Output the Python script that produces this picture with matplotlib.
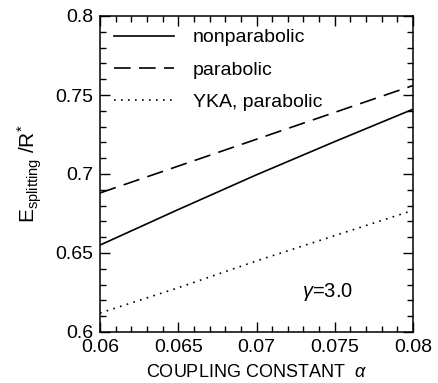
import matplotlib.pyplot as plt
from matplotlib.ticker import MultipleLocator

plt.rcParams['font.family'] = 'Liberation Sans'
plt.rcParams['mathtext.fontset'] = 'custom'
plt.rcParams['mathtext.rm'] = 'Liberation Sans'
plt.rcParams['mathtext.it'] = 'Liberation Sans:italic'

# Coupling constant and splitting energies (in units of R*)
alpha = [0.06, 0.065, 0.07, 0.075, 0.08]
nonparabolic = [0.655, 0.6775, 0.6995, 0.7205, 0.741]
parabolic = [0.688, 0.705, 0.722, 0.739, 0.756]
yka_parabolic = [0.612, 0.628, 0.645, 0.661, 0.677]

xticks = [0.06, 0.065, 0.07, 0.075, 0.08]
xtick_labels = ['0.06', '0.065', '0.07', '0.075', '0.08']
yticks = [0.6, 0.65, 0.7, 0.75, 0.8]
ytick_labels = ['0.6', '0.65', '0.7', '0.75', '0.8']

fig = plt.figure(figsize=(4.38, 3.83), dpi=100)
ax = fig.add_axes([100/438, 1 - 332/383, 313/438, 316/383])

ax.plot(alpha, nonparabolic, color='black', lw=1.2, ls='-', label='nonparabolic')
ax.plot(alpha, parabolic, color='black', lw=1.2, dashes=(10, 5), label='parabolic')
ax.plot(alpha, yka_parabolic, color='black', lw=1.2, dashes=(1, 3.2), label='YKA, parabolic')

ax.set_xlim(0.06, 0.08)
ax.set_ylim(0.6, 0.8)
ax.set_xticks(xticks, xtick_labels)
ax.set_yticks(yticks, ytick_labels)
ax.xaxis.set_minor_locator(MultipleLocator(0.001))
ax.yaxis.set_minor_locator(MultipleLocator(0.01))
ax.tick_params(which='both', direction='in', top=True, right=True, width=1.0)
ax.tick_params(which='major', length=7, labelsize=14, pad=5)
ax.tick_params(which='minor', length=4)
for s in ax.spines.values():
    s.set_linewidth(1.1)

ax.set_xlabel(r'COUPLING CONSTANT  $\alpha$', fontsize=13, labelpad=6)
ax.set_ylabel(r'E$_{\rm splitting}$ /R$^{*}$', fontsize=15, labelpad=8)

ax.text(0.0729, 0.622, r'$\gamma$=3.0', fontsize=14.5)

ax.legend(loc='upper left', frameon=False, fontsize=14, handlelength=3.05,
          handletextpad=1.0, labelspacing=0.75, borderaxespad=0.5,
          bbox_to_anchor=(-0.01, 1.015))

fig.savefig('out.png', dpi=100)
